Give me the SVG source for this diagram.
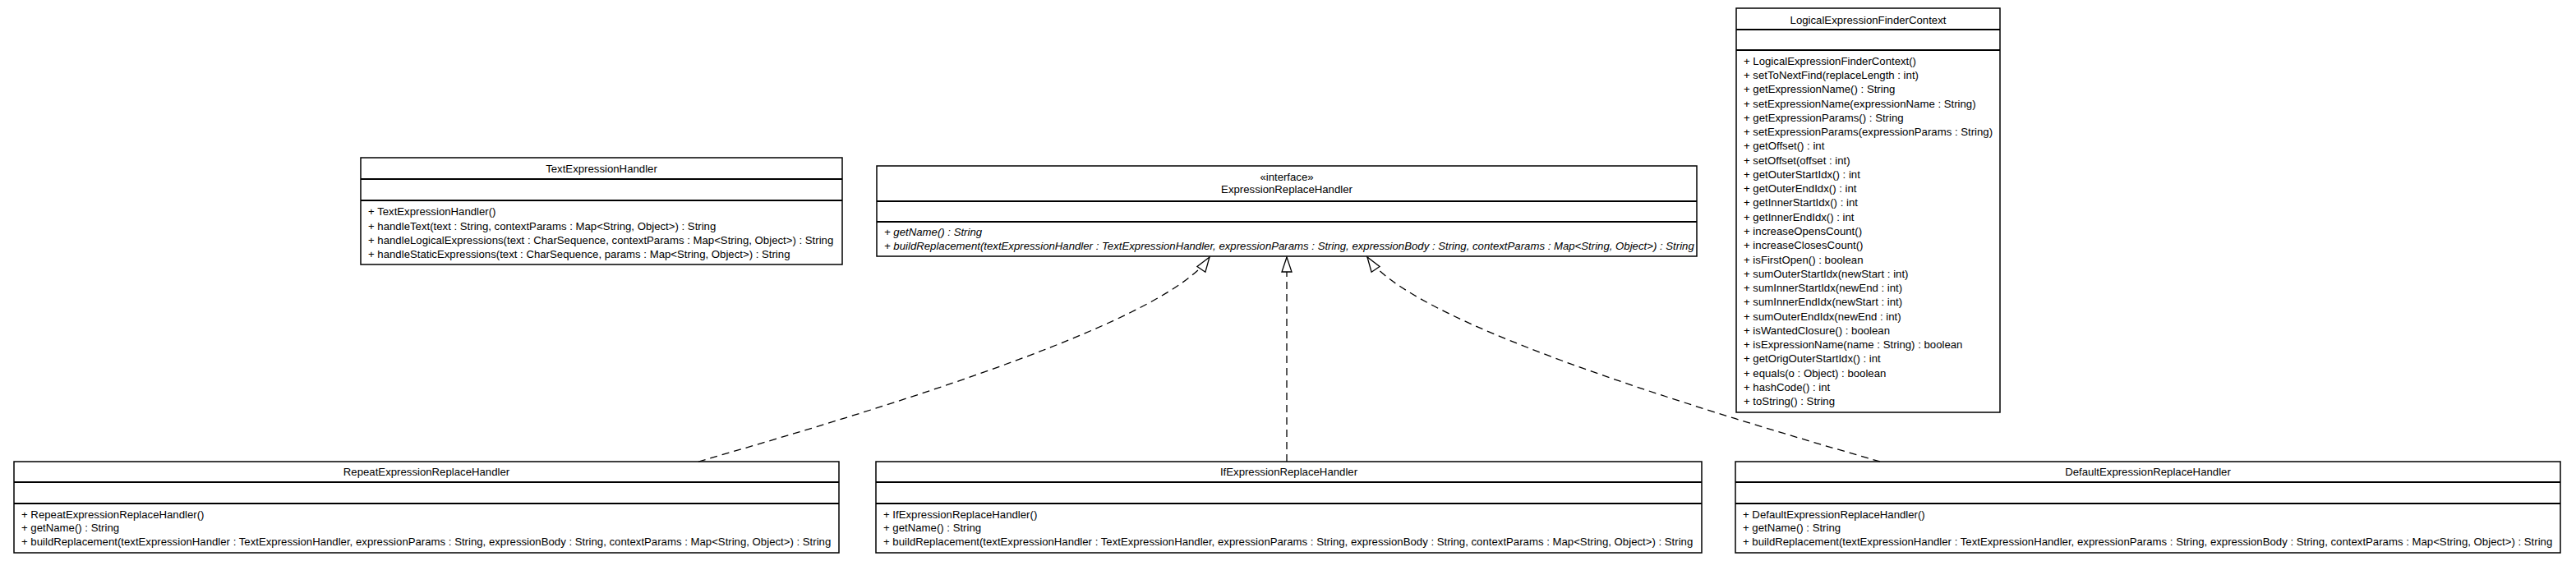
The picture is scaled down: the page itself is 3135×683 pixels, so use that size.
<svg xmlns="http://www.w3.org/2000/svg" width="3135" height="683" viewBox="0 0 3135 683">
<style>
.bg{fill:#fff}
.box{fill:#fff;stroke:#000;stroke-width:1.5}
.dv{stroke:#000;stroke-width:2}
text{font-family:"Liberation Sans",Arial,sans-serif;font-size:13.2px;fill:#000}
.c{text-anchor:middle}
.i{font-style:italic}
.edge{fill:none;stroke:#000;stroke-width:1.3;stroke-dasharray:9,6}
</style>
<defs>
<marker id="tri" markerUnits="userSpaceOnUse" markerWidth="24" markerHeight="18" viewBox="-21 -9 23 18" refX="0" refY="0" orient="auto">
<path d="M0,0 L-18,-6 L-18,6 Z" fill="#fff" stroke="#000" stroke-width="1.3" stroke-dasharray="none"/>
</marker>
</defs>
<rect class="bg" x="0" y="0" width="3135" height="683"/>

<g id="TextExpressionHandler">
<rect class="box" x="439" y="192" width="586" height="130"/>
<line class="dv" x1="439" y1="218" x2="1025" y2="218"/>
<line class="dv" x1="439" y1="244" x2="1025" y2="244"/>
<text class="c" x="732" y="209.7">TextExpressionHandler</text>
<text x="448" y="262.2">+ TextExpressionHandler()</text>
<text x="448" y="279.5">+ handleText(text : String, contextParams : Map&lt;String, Object&gt;) : String</text>
<text x="448" y="296.7">+ handleLogicalExpressions(text : CharSequence, contextParams : Map&lt;String, Object&gt;) : String</text>
<text x="448" y="314">+ handleStaticExpressions(text : CharSequence, params : Map&lt;String, Object&gt;) : String</text>
</g>

<g id="ExpressionReplaceHandler">
<rect class="box" x="1067" y="202" width="998" height="110"/>
<line class="dv" x1="1067" y1="245" x2="2065" y2="245"/>
<line class="dv" x1="1067" y1="270" x2="2065" y2="270"/>
<text class="c" x="1566" y="220.4">«interface»</text>
<text class="c" x="1566" y="235.4">ExpressionReplaceHandler</text>
<text class="i" x="1076" y="287">+ getName() : String</text>
<text class="i" x="1076" y="303.5">+ buildReplacement(textExpressionHandler : TextExpressionHandler, expressionParams : String, expressionBody : String, contextParams : Map&lt;String, Object&gt;) : String</text>
</g>

<g id="LogicalExpressionFinderContext">
<rect class="box" x="2113" y="10" width="321" height="492"/>
<line class="dv" x1="2113" y1="36" x2="2434" y2="36"/>
<line class="dv" x1="2113" y1="61" x2="2434" y2="61"/>
<text class="c" x="2273.5" y="28.7">LogicalExpressionFinderContext</text>
<text x="2122" y="78.7">+ LogicalExpressionFinderContext()</text>
<text x="2122" y="96">+ setToNextFind(replaceLength : int)</text>
<text x="2122" y="113.2">+ getExpressionName() : String</text>
<text x="2122" y="130.5">+ setExpressionName(expressionName : String)</text>
<text x="2122" y="147.8">+ getExpressionParams() : String</text>
<text x="2122" y="165.1">+ setExpressionParams(expressionParams : String)</text>
<text x="2122" y="182.3">+ getOffset() : int</text>
<text x="2122" y="199.6">+ setOffset(offset : int)</text>
<text x="2122" y="216.9">+ getOuterStartIdx() : int</text>
<text x="2122" y="234.1">+ getOuterEndIdx() : int</text>
<text x="2122" y="251.4">+ getInnerStartIdx() : int</text>
<text x="2122" y="268.7">+ getInnerEndIdx() : int</text>
<text x="2122" y="285.9">+ increaseOpensCount()</text>
<text x="2122" y="303.2">+ increaseClosesCount()</text>
<text x="2122" y="320.5">+ isFirstOpen() : boolean</text>
<text x="2122" y="337.8">+ sumOuterStartIdx(newStart : int)</text>
<text x="2122" y="355">+ sumInnerStartIdx(newEnd : int)</text>
<text x="2122" y="372.3">+ sumInnerEndIdx(newStart : int)</text>
<text x="2122" y="389.6">+ sumOuterEndIdx(newEnd : int)</text>
<text x="2122" y="406.8">+ isWantedClosure() : boolean</text>
<text x="2122" y="424.1">+ isExpressionName(name : String) : boolean</text>
<text x="2122" y="441.4">+ getOrigOuterStartIdx() : int</text>
<text x="2122" y="458.6">+ equals(o : Object) : boolean</text>
<text x="2122" y="475.9">+ hashCode() : int</text>
<text x="2122" y="493.2">+ toString() : String</text>
</g>

<g id="RepeatExpressionReplaceHandler">
<rect class="box" x="17" y="562" width="1004" height="111"/>
<line class="dv" x1="17" y1="587" x2="1021" y2="587"/>
<line class="dv" x1="17" y1="613" x2="1021" y2="613"/>
<text class="c" x="519" y="579">RepeatExpressionReplaceHandler</text>
<text x="26" y="630.7">+ RepeatExpressionReplaceHandler()</text>
<text x="26" y="647.4">+ getName() : String</text>
<text x="26" y="664">+ buildReplacement(textExpressionHandler : TextExpressionHandler, expressionParams : String, expressionBody : String, contextParams : Map&lt;String, Object&gt;) : String</text>
</g>

<g id="IfExpressionReplaceHandler">
<rect class="box" x="1066" y="562" width="1005" height="111"/>
<line class="dv" x1="1066" y1="587" x2="2071" y2="587"/>
<line class="dv" x1="1066" y1="613" x2="2071" y2="613"/>
<text class="c" x="1568.5" y="579">IfExpressionReplaceHandler</text>
<text x="1075" y="630.7">+ IfExpressionReplaceHandler()</text>
<text x="1075" y="647.4">+ getName() : String</text>
<text x="1075" y="664">+ buildReplacement(textExpressionHandler : TextExpressionHandler, expressionParams : String, expressionBody : String, contextParams : Map&lt;String, Object&gt;) : String</text>
</g>

<g id="DefaultExpressionReplaceHandler">
<rect class="box" x="2112" y="562" width="1004" height="111"/>
<line class="dv" x1="2112" y1="587" x2="3116" y2="587"/>
<line class="dv" x1="2112" y1="613" x2="3116" y2="613"/>
<text class="c" x="2614" y="579">DefaultExpressionReplaceHandler</text>
<text x="2121" y="630.7">+ DefaultExpressionReplaceHandler()</text>
<text x="2121" y="647.4">+ getName() : String</text>
<text x="2121" y="664">+ buildReplacement(textExpressionHandler : TextExpressionHandler, expressionParams : String, expressionBody : String, contextParams : Map&lt;String, Object&gt;) : String</text>
</g>

<g id="connectors">
<path class="edge" d="M850,562 C1100,490 1420,390 1472,313" marker-end="url(#tri)"/>
<path class="edge" d="M1566,562 L1566,313" marker-end="url(#tri)"/>
<path class="edge" d="M2288,562 C2038,490 1716,390 1664,313" marker-end="url(#tri)"/>
</g>
</svg>
